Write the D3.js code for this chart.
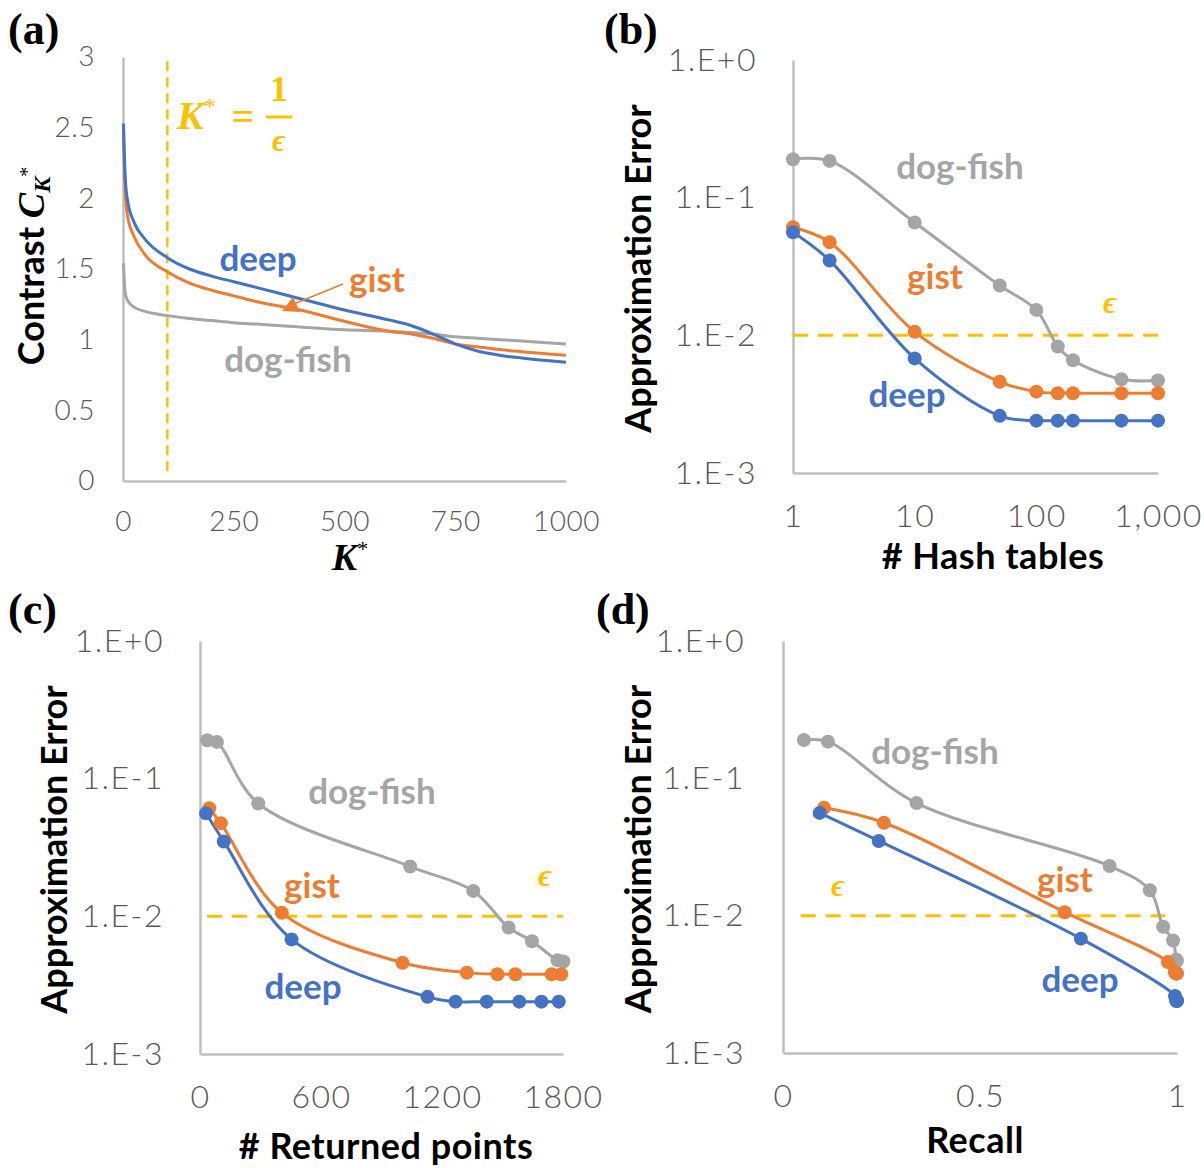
<!DOCTYPE html>
<html><head><meta charset="utf-8">
<script src="https://cdn.jsdelivr.net/npm/d3@7"></script>
<style>body{margin:0;background:#fff} svg{display:block}</style>
</head><body>
<svg id="chart" width="1204" height="1168"></svg>
<script>
// ---------- DATA ----------
// Panel (a): contrast vs K*
const kValues     = [1, 5, 10, 25, 50, 100, 150, 200, 250, 300, 400, 500, 600, 650, 700, 750, 800, 850, 900, 1000];
const deepContrast = [2.53, 2.15, 1.99, 1.83, 1.71, 1.58, 1.50, 1.45, 1.41, 1.37, 1.29, 1.21, 1.14, 1.10, 1.04, 0.97, 0.92, 0.89, 0.87, 0.84];
const gistContrast = [2.48, 2.04, 1.88, 1.73, 1.60, 1.48, 1.40, 1.35, 1.31, 1.27, 1.21, 1.13, 1.06, 1.04, 1.01, 0.97, 0.95, 0.93, 0.915, 0.89];
const dogContrast  = [1.54, 1.33, 1.28, 1.23, 1.20, 1.17, 1.15, 1.135, 1.12, 1.11, 1.09, 1.07, 1.06, 1.05, 1.04, 1.02, 1.01, 1.00, 0.99, 0.97];
const contrastTicks = [0, 0.5, 1, 1.5, 2, 2.5, 3];
const kTicks = [0, 250, 500, 750, 1000];
const epsK = 100;

// Panels (b)-(d): approximation error
const hashTables = [1, 2, 10, 50, 100, 150, 200, 500, 1000];
const dogErr  = [0.19, 0.185, 0.066, 0.023, 0.0153, 0.0083, 0.0066, 0.0048, 0.0047];
const gistErr = [0.061, 0.0475, 0.0106, 0.0046, 0.0039, 0.0038, 0.0038, 0.0038, 0.0038];
const deepErr = [0.056, 0.035, 0.0068, 0.0026, 0.0024, 0.0024, 0.0024, 0.0024, 0.0024];

const dogReturned  = [36, 84, 289, 1042, 1355, 1530, 1646, 1773, 1802];
const gistReturned = [46, 103, 406, 1004, 1323, 1475, 1564, 1744, 1791];
const deepReturned = [30, 118, 454, 1128, 1267, 1422, 1583, 1693, 1779];

const dogRecall  = [0.053, 0.114, 0.339, 0.829, 0.931, 0.965, 0.990, 0.998, 1.0];
const gistRecall = [0.104, 0.256, 0.715, 0.977, 0.994, 0.997, 0.998, 0.999, 1.0];
const deepRecall = [0.093, 0.243, 0.756, 0.995, 0.998, 0.999, 0.999, 1.0, 1.0];

const errTicks = [0.001, 0.01, 0.1, 1];
const errTickLabels = ["1.E-3", "1.E-2", "1.E-1", "1.E+0"];
const hashTicks = [1, 10, 100, 1000];
const hashTickLabels = ["1", "10", "100", "1,000"];
const returnedTicks = [0, 600, 1200, 1800];
const recallTicks = [0, 0.5, 1];
const recallTickLabels = ["0", "0.5", "1"];
const epsilon = 0.01;

// ---------- STYLE ----------
const C = {deep:'#4472C4', gist:'#ED7D31', dog:'#A5A5A5', eps:'#FFC000', axis:'#BFBFBF', tick:'#595959'};
const tickFont = "Lato, 'Open Sans', sans-serif";
const boldFont = "Lato, 'Open Sans', sans-serif";
const serif = "'Liberation Serif', 'DejaVu Serif', serif";

const svg = d3.select('#chart');
svg.append('rect').attr('width',1204).attr('height',1168).attr('fill','#fff');

function styleAxis(g, fs, ls){
  g.select('.domain').attr('stroke', C.axis).attr('stroke-width', 2.5);
  g.selectAll('.tick line').remove();
  g.selectAll('.tick text').attr('fill', C.tick).style('font-family', tickFont)
   .style('font-weight', 300).style('font-size', fs + 'px').style('letter-spacing', (ls||0) + 'px');
}

function panelLabel(txt, x, y){
  svg.append('text').attr('x', x).attr('y', y).text(txt)
    .style('font-family', serif).style('font-weight', 'bold').style('font-size', '44px').attr('fill', '#000');
}

function seriesLabel(g, txt, x, y, color){
  g.append('text').attr('x', x).attr('y', y).attr('text-anchor','middle').attr('dominant-baseline','central')
   .text(txt).attr('fill', color).style('font-family', boldFont).style('font-weight','bold').style('font-size','35px');
}

function yTitle(g, txt, x, y){
  g.append('text').attr('transform', `translate(${x},${y}) rotate(-90)`).attr('text-anchor','middle')
   .text(txt).style('font-family', boldFont).style('font-weight','bold').style('font-size','36px').attr('fill','#000');
}
function xTitle(g, txt, x, y){
  g.append('text').attr('x', x).attr('y', y).attr('text-anchor','middle')
   .text(txt).style('font-family', boldFont).style('font-weight','bold').style('font-size','36px')
   .style('letter-spacing','0.5px').attr('fill','#000');
}

// ---------- PANEL (a) ----------
(function(){
  const g = svg.append('g');
  const x = d3.scaleLinear().domain([0, 1000]).range([123, 566]);
  const y = d3.scaleLinear().domain([0, 3]).range([481, 57]);

  const ya = g.append('g').attr('transform','translate(123,0)')
    .call(d3.axisLeft(y).tickValues(contrastTicks).tickSize(0).tickSizeOuter(0).tickPadding(28).tickFormat(d3.format('')));
  styleAxis(ya, 28, 0.5);
  const xa = g.append('g').attr('transform','translate(0,481)')
    .call(d3.axisBottom(x).tickValues(kTicks).tickSize(0).tickSizeOuter(0).tickPadding(30).tickFormat(d3.format('d')));
  styleAxis(xa, 28, 0.5);

  // epsilon vertical line
  g.append('line').attr('x1', x(epsK)).attr('x2', x(epsK)).attr('y1', y(2.97)).attr('y2', y(0.04))
    .attr('stroke', C.eps).attr('stroke-width', 2.5).attr('stroke-dasharray', '10,6');

  const line = d3.line().x(d => x(d[0])).y(d => y(d[1])).curve(d3.curveMonotoneX);
  [[dogContrast, C.dog], [gistContrast, C.gist], [deepContrast, C.deep]].forEach(([vals, col]) => {
    g.append('path').datum(kValues.map((k,i)=>[k, vals[i]])).attr('d', line)
      .attr('fill','none').attr('stroke', col).attr('stroke-width', 3);
  });

  seriesLabel(g, 'deep', 258, 257, C.deep);
  seriesLabel(g, 'gist', 377, 278, C.gist);
  seriesLabel(g, 'dog-fish', 288, 358, C.dog);

  // arrow from gist label to gist curve
  g.append('line').attr('x1', 343).attr('y1', 284).attr('x2', 289).attr('y2', 306)
    .attr('stroke', C.gist).attr('stroke-width', 1.6);
  g.append('path').attr('d','M282,311 L300,312 L293,297 Z').attr('fill', C.gist);

  // y title: Contrast C_{K*}
  const t = g.append('text').attr('transform','translate(44,266) rotate(-90)').attr('text-anchor','middle').attr('fill','#000');
  t.append('tspan').text('Contrast ').style('font-family', boldFont).style('font-weight','bold').style('font-size','36px');
  t.append('tspan').text('C').style('font-family', serif).style('font-weight','bold').style('font-style','italic').style('font-size','38px');
  t.append('tspan').text('K').attr('dy', 6).style('font-family', serif).style('font-weight','bold').style('font-style','italic').style('font-size','24px');
  t.append('tspan').text('*').attr('dy', -16).style('font-family', serif).style('font-size','20px');

  // x title: K*
  const kt = g.append('text').attr('x', 350).attr('y', 570).attr('text-anchor','middle').attr('fill','#000');
  kt.append('tspan').text('K').style('font-family', serif).style('font-weight','bold').style('font-style','italic').style('font-size','38px');
  kt.append('tspan').text('*').attr('dy', -14).style('font-family', serif).style('font-size','22px');

  // equation K* = 1/eps
  const eq = g.append('text').attr('x', 177).attr('y', 129).attr('fill', C.eps);
  eq.append('tspan').text('K').style('font-family', serif).style('font-weight','bold').style('font-style','italic').style('font-size','40px');
  eq.append('tspan').text('*').attr('dy', -15).style('font-family', serif).style('font-size','24px');
  g.append('text').attr('x', 243).attr('y', 130).attr('text-anchor','middle').text('=').attr('fill', C.eps)
    .style('font-family', serif).style('font-weight','bold').style('font-size','40px');
  g.append('text').attr('x', 279).attr('y', 101).attr('text-anchor','middle').text('1').attr('fill', C.eps)
    .style('font-family', serif).style('font-weight','bold').style('font-size','36px');
  g.append('line').attr('x1', 266).attr('x2', 292).attr('y1', 117).attr('y2', 117).attr('stroke', C.eps).attr('stroke-width', 3);
  g.append('text').attr('x', 279).attr('y', 151).attr('text-anchor','middle').text('ϵ').attr('fill', C.eps)
    .style('font-family', serif).style('font-weight','bold').style('font-style','italic').style('font-size','32px');

  panelLabel('(a)', 8, 44);
})();

// ---------- generic error panel ----------
function errPanel(cfg){
  const g = svg.append('g');
  const x = cfg.x, y = d3.scaleLog().domain([0.001, 1]).range(cfg.yRange);
  const x0 = cfg.xRange[0], y0 = cfg.yRange[0];
  const ya = g.append('g').attr('transform',`translate(${x0},0)`)
    .call(d3.axisLeft(y).tickValues(errTicks).tickSize(0).tickSizeOuter(0).tickPadding(cfg.yPad)
      .tickFormat((d,i)=>errTickLabels[i]));
  styleAxis(ya, 32, 1.5);
  const xa = g.append('g').attr('transform',`translate(0,${y0})`)
    .call(d3.axisBottom(x).tickValues(cfg.xTicks).tickSize(0).tickSizeOuter(0).tickPadding(31)
      .tickFormat((d,i)=>cfg.xTickLabels[i]));
  styleAxis(xa, 32, 1.5);

  g.append('line').attr('x1', x(cfg.epsExtent[0])).attr('x2', x(cfg.epsExtent[1]))
    .attr('y1', y(epsilon)).attr('y2', y(epsilon))
    .attr('stroke', C.eps).attr('stroke-width', 3).attr('stroke-dasharray','15,10');

  const line = d3.line().x(d => x(d[0])).y(d => y(d[1])).curve(d3.curveCatmullRom.alpha(0.5));
  cfg.series.forEach(s => {
    const pts = s.xs.map((v,i)=>[v, s.ys[i]]);
    g.append('path').datum(pts).attr('d', line).attr('fill','none').attr('stroke', s.color).attr('stroke-width', 3);
  });
  cfg.series.forEach(s => {
    const pts = s.xs.map((v,i)=>[v, s.ys[i]]);
    g.selectAll(null).data(pts).enter().append('circle')
      .attr('cx', d => x(d[0])).attr('cy', d => y(d[1])).attr('r', 7).attr('fill', s.color);
  });

  cfg.labels.forEach(l => seriesLabel(g, l[0], l[1], l[2], l[3]));
  g.append('text').attr('x', cfg.epsLabel[0]).attr('y', cfg.epsLabel[1]).attr('text-anchor','middle')
    .attr('dominant-baseline','central').text('ϵ').attr('fill', C.eps)
    .style('font-family', serif).style('font-weight','bold').style('font-style','italic').style('font-size','32px');

  yTitle(g, 'Approximation Error', cfg.yTitleX, (cfg.yRange[0]+cfg.yRange[1])/2 + 2);
  xTitle(g, cfg.xTitle, cfg.xTitlePos[0], cfg.xTitlePos[1]);
  panelLabel(cfg.panel, cfg.panelPos[0], cfg.panelPos[1]);
}

// (b)
errPanel({
  x: d3.scaleLog().domain([1, 1000]).range([793, 1158]), xRange:[793,1158], yRange:[473, 60], yPad: 36,
  xTicks: hashTicks, xTickLabels: hashTickLabels, epsExtent:[1, 1000],
  series: [
    {xs: hashTables, ys: dogErr, color: C.dog},
    {xs: hashTables, ys: gistErr, color: C.gist},
    {xs: hashTables, ys: deepErr, color: C.deep}],
  labels: [['dog-fish', 960, 165, C.dog], ['gist', 935, 275, C.gist], ['deep', 907, 393, C.deep]],
  epsLabel: [1110, 302], yTitleX: 651, xTitle: '# Hash tables', xTitlePos: [993, 569],
  panel: '(b)', panelPos: [604, 44]
});

// (c)
errPanel({
  x: d3.scaleLinear().domain([0, 1800]).range([200, 563]), xRange:[200,563], yRange:[1054, 641], yPad: 36,
  xTicks: returnedTicks, xTickLabels: returnedTicks.map(String), epsExtent:[35, 1800],
  series: [
    {xs: dogReturned, ys: dogErr, color: C.dog},
    {xs: gistReturned, ys: gistErr, color: C.gist},
    {xs: deepReturned, ys: deepErr, color: C.deep}],
  labels: [['dog-fish', 372, 790, C.dog], ['gist', 312, 884, C.gist], ['deep', 303, 985, C.deep]],
  epsLabel: [545, 875], yTitleX: 67, xTitle: '# Returned points', xTitlePos: [386, 1159],
  panel: '(c)', panelPos: [8, 624]
});

// (d)
errPanel({
  x: d3.scaleLinear().domain([0, 1]).range([783, 1177]), xRange:[783,1180], yRange:[1053, 641], yPad: 38,
  xTicks: recallTicks, xTickLabels: recallTickLabels, epsExtent:[0.045, 0.97],
  series: [
    {xs: dogRecall, ys: dogErr, color: C.dog},
    {xs: gistRecall, ys: gistErr, color: C.gist},
    {xs: deepRecall, ys: deepErr, color: C.deep}],
  labels: [['dog-fish', 935, 750, C.dog], ['gist', 1065, 878, C.gist], ['deep', 1080, 978, C.deep]],
  epsLabel: [838, 885], yTitleX: 651, xTitle: 'Recall', xTitlePos: [975, 1153],
  panel: '(d)', panelPos: [596, 624]
});
</script>
</body></html>
